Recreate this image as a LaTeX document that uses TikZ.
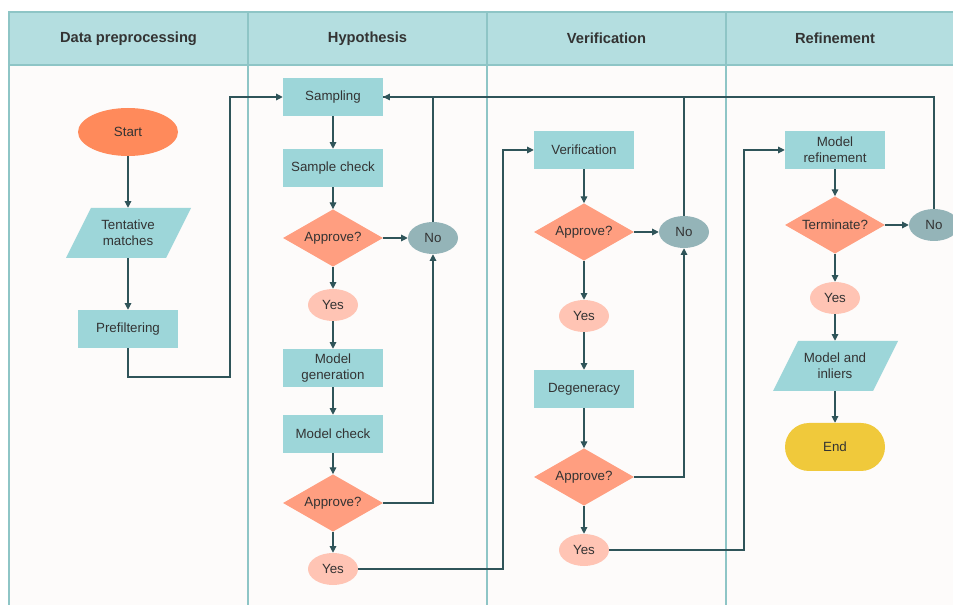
\documentclass[tikz,border=0pt]{standalone}
\usepackage{fontspec}
\setmainfont{Liberation Sans}
\usetikzlibrary{shapes.geometric,arrows.meta}
\definecolor{hdrfill}{HTML}{B4DEE0}
\definecolor{lanebd}{HTML}{8EC5C6}
\definecolor{boxfill}{HTML}{9DD6D9}
\definecolor{startfill}{HTML}{FF8A5B}
\definecolor{decfill}{HTML}{FF9E80}
\definecolor{yesfill}{HTML}{FFC4B4}
\definecolor{nofill}{HTML}{94B4B8}
\definecolor{endfill}{HTML}{F0C93B}
\definecolor{linec}{HTML}{2F5459}
\definecolor{txt}{HTML}{333333}
\definecolor{poolbg}{HTML}{FDFBFA}
\begin{document}
\begin{tikzpicture}[x=0.75pt,y=-0.75pt,
  every node/.style={font=\fontsize{10}{12}\selectfont, text=txt, inner sep=0pt, align=center},
  procbox/.style={rectangle, fill=boxfill, minimum width=75pt, minimum height=28.5pt},
  parabox/.style={rectangle, minimum width=75pt, minimum height=37.5pt},
  decbox/.style={diamond, fill=decfill, aspect=1.75, minimum width=75pt, minimum height=43pt},
  yesbox/.style={ellipse, fill=yesfill, minimum width=37.5pt, minimum height=24pt},
  nobox/.style={ellipse, fill=nofill, minimum width=37.5pt, minimum height=24pt},
  hdr/.style={font=\fontsize{11}{13}\selectfont\bfseries},
  arr/.style={draw=linec, line width=0.8pt, -{Triangle[length=5pt,width=5pt]}},
  ln/.style={draw=linec, line width=0.8pt}]
\useasboundingbox (0,0) rectangle (953,605);
\fill[white] (0,0) rectangle (953,605);
% pool
\fill[poolbg] (9,12) rectangle (975,640);
\fill[hdrfill] (9,12) rectangle (975,65);
\draw[lanebd, line width=1pt] (9,640) -- (9,12) -- (975,12);
\draw[lanebd, line width=1pt] (9,65) -- (975,65);
\foreach \xx in {248,487,726} \draw[lanebd, line width=1pt] (\xx,12) -- (\xx,640);
\node[hdr] (h1) at (128.5,38.5) {Data preprocessing};
\node[hdr] (h2) at (367.5,38.5) {Hypothesis};
\node[hdr] (h3) at (606.5,38.5) {Verification};
\node[hdr] (h4) at (835,38.5) {Refinement};
% parallelogram fills
\fill[boxfill] (91,208) -- (191,208) -- (166,258) -- (66,258) -- cycle;
\fill[boxfill] (798,341) -- (898,341) -- (873,391) -- (773,391) -- cycle;
% data preprocessing
\node[ellipse, fill=startfill, minimum width=75pt, minimum height=36pt] (start) at (128,132) {Start};
\node[parabox] (tm) at (128,233) {Tentative\\matches};
\node[procbox] (pre) at (128,329) {Prefiltering};
% hypothesis
\node[procbox] (samp) at (333,97) {Sampling};
\node[procbox] (sc) at (333,168) {Sample check};
\node[decbox] (ap1) at (333,238) {Approve?};
\node[nobox] (no1) at (433,238) {No};
\node[yesbox] (y1) at (333,305) {Yes};
\node[procbox] (mg) at (333,368) {Model\\generation};
\node[procbox] (mc) at (333,434) {Model check};
\node[decbox] (ap2) at (333,503) {Approve?};
\node[yesbox] (y2) at (333,569) {Yes};
% verification
\node[procbox] (ver) at (584,150) {Verification};
\node[decbox] (ap3) at (584,232) {Approve?};
\node[nobox] (no2) at (684,232) {No};
\node[yesbox] (y3) at (584,316) {Yes};
\node[procbox] (deg) at (584,389) {Degeneracy};
\node[decbox] (ap4) at (584,477) {Approve?};
\node[yesbox] (y4) at (584,550) {Yes};
% refinement
\node[procbox] (mr) at (835,150) {Model\\refinement};
\node[decbox] (term) at (835,225) {Terminate?};
\node[nobox] (no3) at (934,225) {No};
\node[yesbox] (y5) at (835,298) {Yes};
\node[parabox] (mi) at (835,366) {Model and\\inliers};
\node[rectangle, rounded corners=18pt, fill=endfill, minimum width=75pt, minimum height=36pt] (end) at (835,447) {End};
% turning points
\coordinate (k1) at (230,377);
\coordinate (k2) at (503,569);
\coordinate (k3) at (744,550);
% connectors
\draw[arr] (start) -- (tm);
\draw[arr] (tm) -- (pre);
\draw[arr] (pre.south) |- (k1) |- (samp.west);
\draw[arr] (samp) -- (sc);
\draw[arr] (sc) -- (ap1);
\draw[arr] (ap1) -- (y1);
\draw[arr] (ap1) -- (no1);
\draw[arr] (y1) -- (mg);
\draw[arr] (mg) -- (mc);
\draw[arr] (mc) -- (ap2);
\draw[arr] (ap2) -- (y2);
\draw[arr] (ap2.east) -| (no1.south);
\draw[ln] (no3.north) |- (samp.east);
\draw[ln] (no2.north) |- (samp.east);
\draw[arr] (no1.north) |- (samp.east);
\draw[arr] (y2.east) -- (k2) |- (ver.west);
\draw[arr] (ver) -- (ap3);
\draw[arr] (ap3) -- (y3);
\draw[arr] (ap3) -- (no2);
\draw[arr] (y3) -- (deg);
\draw[arr] (deg) -- (ap4);
\draw[arr] (ap4) -- (y4);
\draw[arr] (ap4.east) -| (no2.south);
\draw[arr] (y4.east) -- (k3) |- (mr.west);
\draw[arr] (mr) -- (term);
\draw[arr] (term) -- (y5);
\draw[arr] (term) -- (no3);
\draw[arr] (y5) -- (mi);
\draw[arr] (mi) -- (end);
\end{tikzpicture}
\end{document}
